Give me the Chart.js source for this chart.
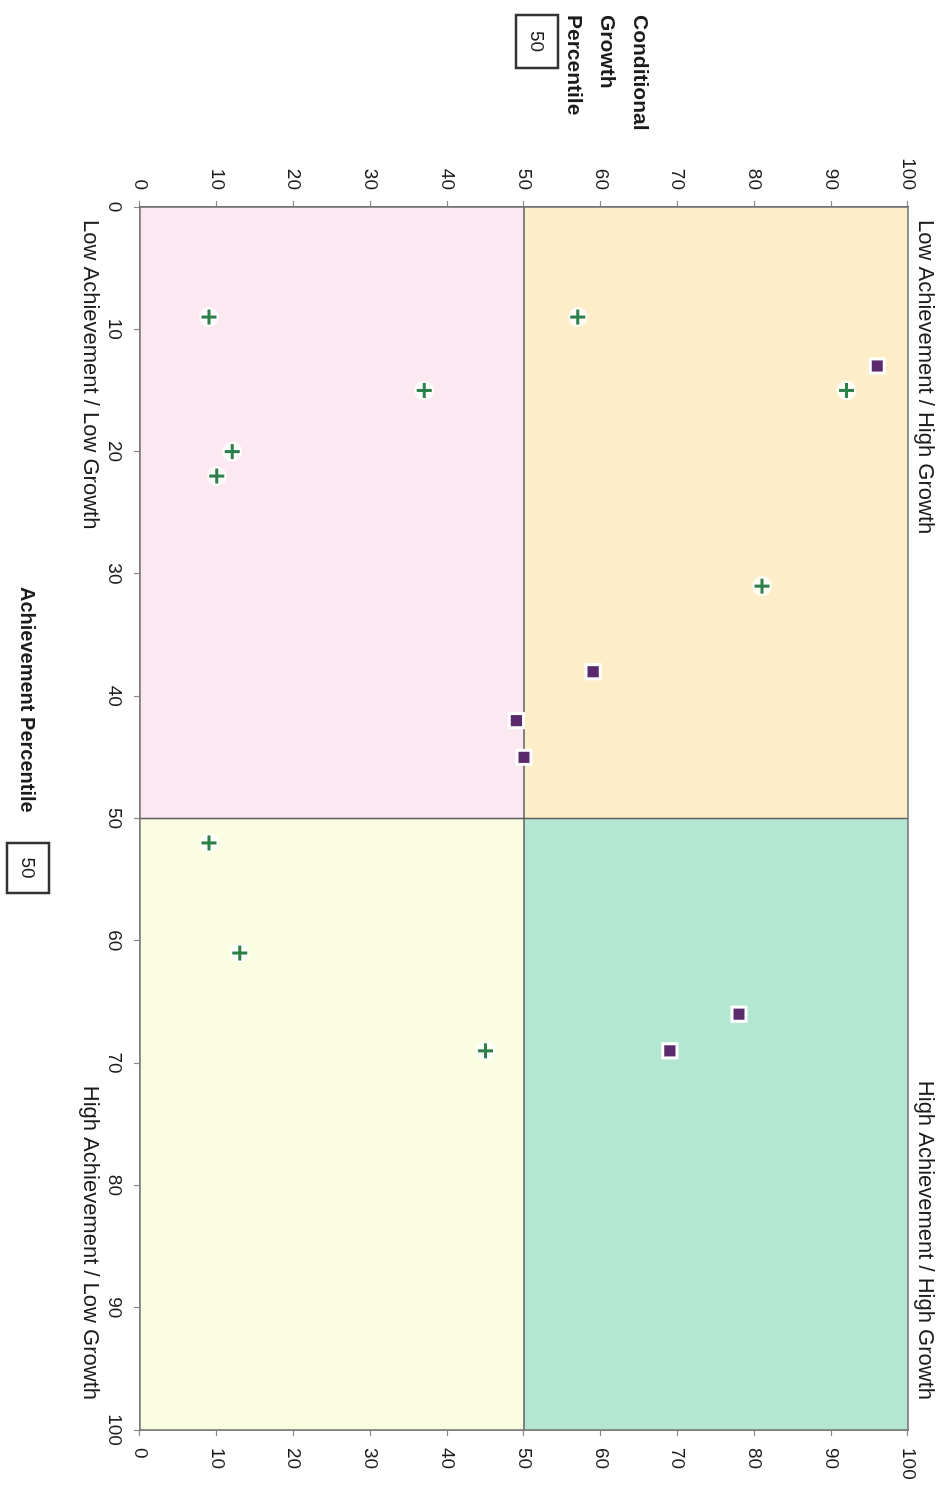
<!DOCTYPE html>
<html>
<head>
<meta charset="utf-8">
<title>Achievement vs Conditional Growth</title>
<script src="https://cdn.jsdelivr.net/npm/chart.js@4"></script>
<style>
  html, body { margin: 0; padding: 0; background: #fff; overflow: hidden; width: 947px; height: 1500px; }
  /* the scanned chart lies on its side, so draw it flat and turn the wrapper 90deg clockwise */
  #wrap {
    position: absolute; left: 0; top: 0;
    width: 1500px; height: 947px;
    transform-origin: 0 0;
    transform: translate(947px, 0) rotate(90deg);
  }
</style>
</head>
<body>
<div id="wrap"><canvas id="chart" width="1500" height="947"></canvas></div>
<script>
//tick values used on both axes
const tickValues = [0, 10, 20, 30, 40, 50, 60, 70, 80, 90, 100];

//green plus markers: achievement percentile + conditional growth percentile
const plusAchievement = [9, 9, 15, 15, 20, 22, 31, 52, 61, 69];
const plusGrowth      = [9, 57, 37, 92, 12, 10, 81, 9, 13, 45];

//purple square markers
const squareAchievement = [13, 38, 42, 45, 66, 69];
const squareGrowth      = [96, 59, 49, 50, 78, 69];

//where the quadrants split
const cutoffAchievement = 50;
const cutoffGrowth = 50;

const quadrantLabels = [
  "Low Achievement / High Growth",
  "High Achievement / High Growth",
  "Low Achievement / Low Growth",
  "High Achievement / Low Growth",
];
const xTitle = "Achievement Percentile";
const yTitleLines = ["Conditional", "Growth", "Percentile"];

const fontFamily = "'Liberation Sans', Arial, sans-serif";
const textColour = "#1c1c1c";

function toPoints(xs, ys) {
  return xs.map((x, i) => ({ x: x, y: ys[i] }));
}

//small box with the cutoff value inside, next to each axis title
function drawBoxedValue(ctx, text, x, y, w, h) {
  ctx.lineWidth = 2.5;
  ctx.strokeStyle = "#333";
  ctx.strokeRect(x, y, w, h);
  ctx.font = "19px " + fontFamily;
  ctx.textAlign = "center";
  ctx.fillText(text, x + w / 2, y + h / 2 + 1);
}

//coloured quadrants + the two divider lines, drawn under the markers
const quadrantPlugin = {
  id: "quadrants",
  beforeDatasetsDraw(chart) {
    const { ctx, chartArea: a, scales } = chart;
    const mx = scales.x.getPixelForValue(cutoffAchievement);
    const my = scales.y.getPixelForValue(cutoffGrowth);
    ctx.save();
    ctx.fillStyle = "#fdeec9"; ctx.fillRect(a.left, a.top, mx - a.left, my - a.top);
    ctx.fillStyle = "#b4e7d2"; ctx.fillRect(mx, a.top, a.right - mx, my - a.top);
    ctx.fillStyle = "#fbe8f0"; ctx.fillRect(a.left, my, mx - a.left, a.bottom - my);
    ctx.fillStyle = "#fafde2"; ctx.fillRect(mx, my, a.right - mx, a.bottom - my);

    ctx.strokeStyle = "#5e5e5e";
    ctx.lineWidth = 1.5;
    ctx.beginPath();
    ctx.moveTo(mx, a.top); ctx.lineTo(mx, a.bottom);
    ctx.moveTo(a.left, my); ctx.lineTo(a.right, my);
    ctx.stroke();

    ctx.strokeStyle = "#707070";
    ctx.strokeRect(a.left, a.top, a.width, a.height);
    ctx.restore();
  }
};

//quadrant names and axis titles
const labelPlugin = {
  id: "labels",
  afterDraw(chart) {
    const { ctx, chartArea: a } = chart;
    ctx.save();
    ctx.fillStyle = textColour;
    ctx.textBaseline = "middle";

    ctx.font = "22px " + fontFamily;
    ctx.textAlign = "left";
    ctx.fillText(quadrantLabels[0], a.left + 13, 22);
    ctx.fillText(quadrantLabels[2], a.left + 13, 857);
    ctx.textAlign = "right";
    ctx.fillText(quadrantLabels[1], a.right - 30, 22);
    ctx.fillText(quadrantLabels[3], a.right - 30, 857);

    //x title with the boxed cutoff
    ctx.font = "bold 20px " + fontFamily;
    ctx.textAlign = "left";
    ctx.fillText(xTitle, 587, 920);
    drawBoxedValue(ctx, String(cutoffAchievement), 843, 898, 50, 42);

    //y title stacked in the corner
    ctx.font = "bold 21px " + fontFamily;
    ctx.textAlign = "left";
    yTitleLines.forEach((line, i) => ctx.fillText(line, 15, 307 + i * 33));
    drawBoxedValue(ctx, String(cutoffGrowth), 15, 389, 53, 42);
    ctx.restore();
  }
};

//shared axis settings, every axis runs 0-100 with ticks every 10
function axis(position, extra) {
  return Object.assign({
    type: "linear",
    position: position,
    min: 0,
    max: 100,
    afterBuildTicks: s => { s.ticks = tickValues.map(v => ({ value: v })); },
    grid: { drawOnChartArea: false, drawTicks: true, tickLength: 6, color: "#8a8a8a", tickWidth: 1.2 },
    border: { display: true, color: "#707070", width: 1.5 },
  }, extra);
}

Chart.defaults.font.family = fontFamily;

new Chart(document.getElementById("chart").getContext("2d"), {
  type: "scatter",
  data: {
    datasets: [
      {
        //white glow behind the plus marks, like on the scan
        data: toPoints(plusAchievement, plusGrowth),
        pointStyle: "circle",
        pointRadius: 10,
        backgroundColor: "rgba(255,255,255,0.8)",
        borderWidth: 0,
        order: 3,
      },
      {
        data: toPoints(plusAchievement, plusGrowth),
        pointStyle: "cross",
        pointRadius: 7.5,
        borderColor: "#2a8048",
        borderWidth: 3,
        order: 1,
      },
      {
        data: toPoints(squareAchievement, squareGrowth),
        pointStyle: "rect",
        pointRadius: 10,
        backgroundColor: "#5a2a6c",
        borderColor: "#ffffff",
        borderWidth: 3,
        order: 2,
      },
    ]
  },
  options: {
    responsive: false,
    animation: false,
    devicePixelRatio: 1,
    layout: { padding: { top: 39, left: 0, right: 0, bottom: 0 } },
    plugins: { legend: { display: false }, tooltip: { enabled: false } },
    scales: {
      x: axis("bottom", {
        afterFit: s => { s.height = 140; },
        ticks: { color: textColour, font: { size: 19 }, autoSkip: false, maxRotation: 0, padding: 8 },
      }),
      y: axis("left", {
        afterFit: s => { s.width = 207; },
        ticks: { color: textColour, font: { size: 19 }, autoSkip: false, padding: 11 },
      }),
      y2: axis("right", {
        axis: "y",
        afterFit: s => { s.width = 70; },
        ticks: { color: textColour, font: { size: 19 }, autoSkip: false, padding: 12 },
      }),
    }
  },
  plugins: [quadrantPlugin, labelPlugin]
});
</script>
</body>
</html>
